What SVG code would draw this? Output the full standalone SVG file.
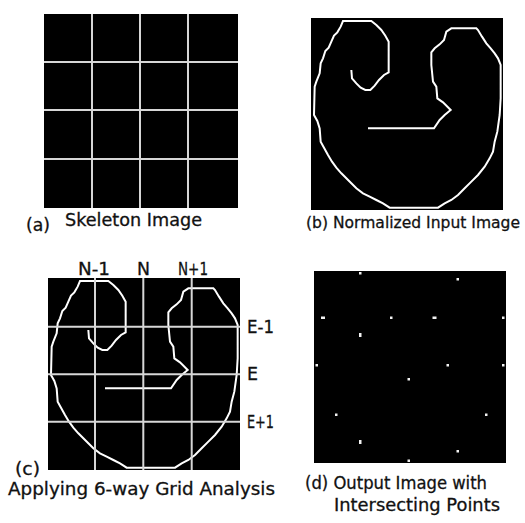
<svg xmlns="http://www.w3.org/2000/svg" width="525" height="523" viewBox="0 0 525 523">
<style>
.bg{fill:#000}
.grid{stroke:#d6d6d6;stroke-width:2;fill:none}
.shape{stroke:#fff;stroke-width:6;fill:none;stroke-linejoin:miter}
.cap{font-family:"DejaVu Sans",sans-serif;font-size:17px;fill:#111;stroke:#111;stroke-width:0.3}
.lbl{font-family:"DejaVu Sans",sans-serif;font-size:17px;fill:#111;stroke:#111;stroke-width:0.3}
.dot{fill:#f2f2f2}
</style>
<defs>
<path id="glyph" d="M130,165 L132,190 L145,205 L158,218 L172,225 L187,225 L200,212 L213,195 L228,180 L242,172 L242,80 L232,62 L220,45 L205,30 L190,18 L105,18 L98,35 L88,52 L78,62 L70,80 L62,98 L52,108 L45,130 L38,145 L35,175 L25,200 L20,215 L18,300 L28,318 L35,340 L38,380 L48,398 L60,420 L72,440 L85,458 L100,475 L115,490 L130,505 L145,520 L165,535 L185,545 L205,555 L225,565 L245,578 L390,578 L410,565 L430,555 L450,540 L470,520 L490,500 L510,480 L530,455 L545,430 L555,410 L560,380 L568,350 L575,300 L578,250 L578,150 L570,130 L560,115 L548,100 L535,85 L522,65 L510,45 L505,40 L430,40 L415,50 L408,75 L395,88 L380,100 L370,112 L370,150 L375,200 L385,215 L388,250 L405,262 L428,285 L410,300 L395,315 L378,340 L180,340"/>
</defs>
<rect width="525" height="523" fill="#fff"/>

<g id="panel-a">
<rect class="bg" x="44" y="14" width="194" height="194"/>
<path class="grid" d="M92,14V208M140,14V208M188,14V208M44,62H238M44,110H238M44,159H238"/>
<text class="cap" x="26" y="231" textLength="24" lengthAdjust="spacingAndGlyphs">(a)</text>
<text class="cap" x="65" y="226" textLength="137" lengthAdjust="spacingAndGlyphs">Skeleton Image</text>
</g>

<g id="panel-b">
<rect class="bg" x="311" y="18" width="192" height="192"/>
<use href="#glyph" class="shape" transform="translate(308,15) scale(0.33333)"/>
<text class="cap" x="306" y="228" style="font-size:16px" textLength="214" lengthAdjust="spacingAndGlyphs">(b) Normalized Input Image</text>
</g>

<g id="panel-c">
<rect class="bg" x="48" y="278" width="192" height="192"/>
<use href="#glyph" class="shape" transform="translate(45,275) scale(0.33333)"/>
<path class="grid" d="M95,278V470M143.3,278V470M191.7,278V470M48,326.7H240M48,374.3H240M48,421.7H240"/>
<text class="lbl" x="78" y="275" textLength="32" lengthAdjust="spacingAndGlyphs">N-1</text>
<text class="lbl" x="137" y="275" textLength="13" lengthAdjust="spacingAndGlyphs">N</text>
<text class="lbl" x="178" y="275" textLength="30" lengthAdjust="spacingAndGlyphs">N+1</text>
<text class="lbl" x="247" y="333" textLength="27" lengthAdjust="spacingAndGlyphs">E-1</text>
<text class="lbl" x="247" y="380" textLength="11" lengthAdjust="spacingAndGlyphs">E</text>
<text class="lbl" x="247" y="428" textLength="27" lengthAdjust="spacingAndGlyphs">E+1</text>
<text class="cap" x="15" y="475" textLength="25" lengthAdjust="spacingAndGlyphs">(c)</text>
<text class="cap" x="8" y="495" textLength="267" lengthAdjust="spacingAndGlyphs">Applying 6-way Grid Analysis</text>
</g>

<g id="panel-d">
<rect class="bg" x="314" y="271" width="192" height="192"/>
<g class="dot">
<rect x="359" y="272" width="2.5" height="2.5"/>
<rect x="456.5" y="278" width="2.5" height="2.5"/>
<rect x="321" y="316.5" width="4" height="2.5"/>
<rect x="390" y="316.5" width="2.5" height="2.5"/>
<rect x="432.5" y="316.5" width="4" height="2.5"/>
<rect x="502" y="316.5" width="2.5" height="2.5"/>
<rect x="359" y="333" width="2.5" height="4"/>
<rect x="315.5" y="364" width="2.5" height="2.5"/>
<rect x="446.5" y="364" width="2.5" height="2.5"/>
<rect x="502" y="364" width="2.5" height="2.5"/>
<rect x="407.5" y="378" width="2.5" height="2.5"/>
<rect x="335" y="413.5" width="2.5" height="2.5"/>
<rect x="485" y="413.5" width="2.5" height="2.5"/>
<rect x="359" y="440" width="2.5" height="4"/>
<rect x="456.5" y="450" width="2.5" height="2.5"/>
<rect x="407.5" y="459.5" width="2.5" height="2.5"/>
</g>
<text class="cap" x="305" y="489" textLength="182" lengthAdjust="spacingAndGlyphs">(d) Output Image with</text>
<text class="cap" x="334" y="511" textLength="166" lengthAdjust="spacingAndGlyphs">Intersecting Points</text>
</g>
</svg>
